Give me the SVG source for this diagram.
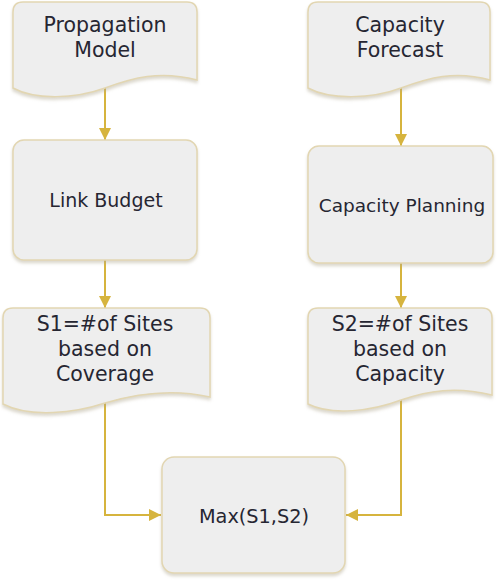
<svg xmlns="http://www.w3.org/2000/svg" width="502" height="588" viewBox="0 0 502 588">
<style>
.shape{fill:#eeeeee;stroke:#e2d6b2;stroke-width:1.5;filter:url(#sh)}
.lbl{font-family:"DejaVu Sans",Verdana,sans-serif;font-size:18.5px;fill:#262632;text-anchor:middle}
.doc{font-size:20.5px}
.con{fill:none;stroke:#d6b43e;stroke-width:2;marker-end:url(#ah)}
</style>
<defs>
<filter id="sh" x="-10%" y="-10%" width="120%" height="125%">
<feDropShadow dx="0" dy="2.5" stdDeviation="1.5" flood-color="#b0a890" flood-opacity="0.45"/>
</filter>
<marker id="ah" viewBox="0 0 12 12" markerWidth="12" markerHeight="12" refX="12" refY="6" orient="auto" markerUnits="userSpaceOnUse">
<path d="M0,0 L12,6 L0,12 Z" fill="#d6b43e"/>
</marker>
</defs>
<rect width="502" height="588" fill="#ffffff"/>
<g id="connectors">
<path class="con" d="M105,88 V140"/>
<path class="con" d="M105,260 V308"/>
<path class="con" d="M401,88 V146"/>
<path class="con" d="M401,263 V308"/>
<path class="con" d="M105,403 V515 H161"/>
<path class="con" d="M401,400 V515 H346"/>
</g>
<g id="propagation">
<path class="shape" d="M23,2 H187 Q197,2 197,12 V80 C160,70 132,78 105,88 C75,99 35,100 13,88 V12 Q13,2 23,2 Z"/>
<text class="lbl doc" x="105" y="32">Propagation</text>
<text class="lbl doc" x="105" y="57">Model</text>
</g>
<g id="capacity-forecast">
<path class="shape" d="M318,2 H480 Q490,2 490,12 V80 C455,70 428,78 401,88 C372,99 330,100 308,88 V12 Q308,2 318,2 Z"/>
<text class="lbl doc" x="400" y="32">Capacity</text>
<text class="lbl doc" x="400" y="57">Forecast</text>
</g>
<g id="link-budget">
<rect class="shape" x="13" y="140" width="184" height="120" rx="11"/>
<text class="lbl" x="106" y="207" style="font-size:19px">Link Budget</text>
</g>
<g id="capacity-planning">
<rect class="shape" x="308" y="146" width="185" height="117" rx="11"/>
<text class="lbl" x="402" y="212">Capacity Planning</text>
</g>
<g id="s1">
<path class="shape" d="M13,308 H200 Q210,308 210,318 V397 C170,388 135,394 105,403 C75,413 30,418 3,404 V318 Q3,308 13,308 Z"/>
<text class="lbl doc" x="105" y="331">S1=#of Sites</text>
<text class="lbl doc" x="105" y="356">based on</text>
<text class="lbl doc" x="105" y="381">Coverage</text>
</g>
<g id="s2">
<path class="shape" d="M318,308 H482 Q492,308 492,318 V395 C455,386 428,391 401,400 C372,411 332,416 308,404 V318 Q308,308 318,308 Z"/>
<text class="lbl doc" x="400" y="331">S2=#of Sites</text>
<text class="lbl doc" x="400" y="356">based on</text>
<text class="lbl doc" x="400" y="381">Capacity</text>
</g>
<g id="max">
<rect class="shape" x="162" y="457" width="183" height="116" rx="12"/>
<text class="lbl" x="254" y="523" style="font-size:19.3px">Max(S1,S2)</text>
</g>
</svg>
